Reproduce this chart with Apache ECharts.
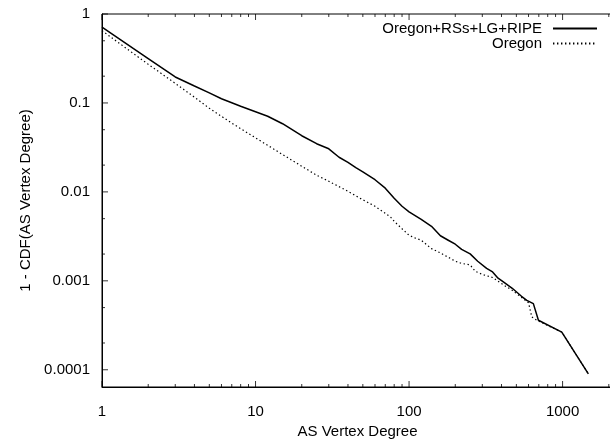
<!DOCTYPE html>
<html>
<head>
<meta charset="utf-8">
<script src="https://cdn.jsdelivr.net/npm/echarts@6/dist/echarts.min.js"></script>
<style>html,body{margin:0;padding:0;background:#fff}#c{width:610px;height:443px}</style>
</head>
<body>
<div id="c"></div>
<script>
const seriesNames = ['Oregon+RSs+LG+RIPE', 'Oregon'];
const fullDegrees = [1,2,3,4,5,6,7,8,10,12,15,20,25,30,35,40,45,50,60,70,80,90,100,120,140,160,180,200,220,250,280,320,350,380,420,470,540,585,645,696,988,1472];
const fullValues = [0.710,0.315,0.196,0.155,0.1296,0.1115,0.1005,0.0918,0.0796,0.0709,0.0584,0.0428,0.0348,0.0305,0.0245,0.0215,0.0187,0.0168,0.0137,0.0110,0.00848,0.00689,0.00597,0.00492,0.0041,0.00321,0.00286,0.00258,0.00226,0.00201,0.00166,0.00138,0.00126,0.00107,0.00095,0.000824,0.00067,0.000604,0.000554,0.00036,0.000265,0.00009];
const oregonDegrees = [1,2,3,4,5,7,10,15,20,25,30,40,50,60,70,76,80,90,100,110,120,140,160,180,200,220,250,270,300,350,380,420,470,540,600,630,679,988,1472];
const oregonValues = [0.649,0.272,0.166,0.116,0.0872,0.0593,0.0405,0.0263,0.0194,0.0154,0.01315,0.01016,0.00815,0.00689,0.00574,0.00518,0.00467,0.00385,0.00325,0.00302,0.00286,0.0023,0.00206,0.00184,0.00166,0.00157,0.00151,0.00128,0.00118,0.00109,0.000987,0.000879,0.000782,0.000652,0.000566,0.000392,0.00036,0.000265,0.00009];
const xMajorTicks = [1,10,100,1000];
const xTickLabels = ['1','10','100','1000'];
const xMinorTicks = [2,3,4,5,6,7,8,9,20,30,40,50,60,70,80,90,200,300,400,500,600,700,800,900,2000];
const yMajorTicks = [1,0.1,0.01,0.001,0.0001];
const yTickLabels = ['1','0.1','0.01','0.001','0.0001'];
const yMinorTicks = [0.5,0.2,0.05,0.02,0.005,0.002,0.0005,0.0002];
const xTitle = 'AS Vertex Degree';
const yTitle = '1 - CDF(AS Vertex Degree)';

const FONT = "'Liberation Sans', Arial, sans-serif";
const X_MIN = 1, X_MAX = 2130, Y_MIN = 6.4e-5, Y_MAX = 1;

function nearestLabel(v, ticks, labels) {
  let best = 0, bd = Infinity;
  ticks.forEach((t, i) => { const d = Math.abs(Math.log10(v) - Math.log10(t)); if (d < bd) { bd = d; best = i; } });
  return labels[best];
}

// tick marks drawn as small rect symbols placed through the axes' own scales
function tickSeries(points, size, offset) {
  return {
    type: 'scatter', xAxisIndex: 0, yAxisIndex: 0, data: points,
    symbol: 'rect', symbolSize: size, symbolOffset: offset,
    itemStyle: { color: '#000' }, silent: true, clip: false, z: 5,
    emphasis: { disabled: true }, tooltip: { show: false }
  };
}

const chart = echarts.init(document.getElementById('c'), null, { renderer: 'canvas' });
chart.setOption({
  animation: false,
  backgroundColor: '#fff',
  grid: { left: 102, top: 14, right: -3, bottom: 56, show: true, borderColor: '#000', borderWidth: 1, containLabel: false, outerBoundsMode: 'none' },
  xAxis: {
    type: 'log', logBase: 10, min: X_MIN, max: X_MAX,
    axisLine: { show: true, lineStyle: { color: '#000', width: 1 } },
    axisTick: { show: false },
    axisLabel: {
      show: true, margin: 17, fontSize: 15, color: '#000', fontFamily: FONT,
      showMinLabel: true, showMaxLabel: false,
      formatter: v => nearestLabel(v, xMajorTicks, xTickLabels)
    },
    splitLine: { show: false }, minorTick: { show: false },
    name: xTitle, nameLocation: 'middle', nameGap: 29,
    nameTextStyle: { fontSize: 15, color: '#000', fontFamily: FONT }
  },
  yAxis: {
    type: 'log', logBase: 10, min: Y_MIN, max: Y_MAX,
    axisLine: { show: true, lineStyle: { color: '#000', width: 1 } },
    axisTick: { show: false },
    axisLabel: {
      show: true, margin: 12, fontSize: 15, color: '#000', fontFamily: FONT,
      showMinLabel: false, showMaxLabel: true,
      formatter: v => nearestLabel(v, yMajorTicks, yTickLabels)
    },
    splitLine: { show: false }, minorTick: { show: false },
    name: yTitle, nameLocation: 'middle', nameGap: 69, nameRotate: 90,
    nameTextStyle: { fontSize: 15, color: '#000', fontFamily: FONT }
  },
  legend: [
    {
      data: [seriesNames[0]], orient: 'vertical', align: 'right', right: 7, top: 16,
      itemWidth: 44, itemHeight: 14, selectedMode: false, itemStyle: { opacity: 0 },
      textStyle: { fontSize: 15, color: '#000', fontFamily: FONT, padding: [0, 6, 0, 0] }
    },
    {
      data: [seriesNames[1]], orient: 'vertical', align: 'right', right: 7, top: 31,
      itemWidth: 44, itemHeight: 14, selectedMode: false, itemStyle: { opacity: 0 },
      textStyle: { fontSize: 15, color: '#000', fontFamily: FONT, padding: [0, 6, 0, 0] }
    }
  ],
  series: [
    {
      name: seriesNames[0], type: 'line', xAxisIndex: 0, yAxisIndex: 0,
      data: fullDegrees.map((d, i) => [d, fullValues[i]]),
      symbol: 'none', showSymbol: false, clip: true,
      lineStyle: { color: '#000', width: 1.5, type: 'solid' },
      itemStyle: { color: '#000' }
    },
    {
      name: seriesNames[1], type: 'line', xAxisIndex: 0, yAxisIndex: 0,
      data: oregonDegrees.map((d, i) => [d, oregonValues[i]]),
      symbol: 'none', showSymbol: false, clip: true,
      lineStyle: { color: '#000', width: 1.2, type: [1.4, 2.6] },
      itemStyle: { color: '#000' }
    },
    tickSeries(xMajorTicks.map(v => [v, Y_MIN]), [1, 6], [0, -3]),
    tickSeries(xMinorTicks.filter(v => v < X_MAX).map(v => [v, Y_MIN]), [1, 3], [0, -1.5]),
    tickSeries(xMajorTicks.map(v => [v, Y_MAX]), [1, 6], [0, 3]),
    tickSeries(xMinorTicks.filter(v => v < X_MAX).map(v => [v, Y_MAX]), [1, 3], [0, 1.5]),
    tickSeries(yMajorTicks.map(v => [X_MIN, v]), [6, 1], [3, 0]),
    tickSeries(yMinorTicks.map(v => [X_MIN, v]), [3, 1], [1.5, 0])
  ]
});
</script>
</body>
</html>
